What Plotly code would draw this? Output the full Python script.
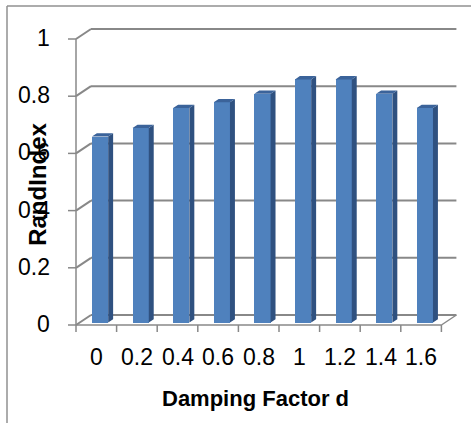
import plotly.graph_objects as go

# ---- data ----
damping = ["0", "0.2", "0.4", "0.6", "0.8", "1", "1.2", "1.4", "1.6"]
rand_index = [0.65, 0.68, 0.75, 0.77, 0.80, 0.85, 0.85, 0.80, 0.75]
y_ticks = [0, 0.2, 0.4, 0.6, 0.8, 1.0]
y_tick_text = ["0", "0.2", "0.4", "0.6", "0.8", "1"]

# ---- geometry of the pseudo-3D frame (data units) ----
W, H = 471, 423
ORIGIN_X_PX, ORIGIN_Y_PX = 76, 325      # where the front floor corner sits
CAT_PX, UNIT_PX = 40.6, 286             # pixels per category / per 1.0 on y
DX, DY = 15 / CAT_PX, 10 / UNIT_PX      # depth of the walls
BAR_W = 0.4
FRONT = 0.25                            # depth fraction of the bar front face
DEPTH = 0.33                            # depth fraction occupied by a bar

x_range = [-0.5 - ORIGIN_X_PX / CAT_PX, -0.5 + (W - ORIGIN_X_PX) / CAT_PX]
y_range = [-(H - ORIGIN_Y_PX) / UNIT_PX, ORIGIN_Y_PX / UNIT_PX]

FRONT_COL = "#4f81bd"
SIDE_COL = "#2f5180"
TOP_COL = "#3b639a"
GRID_COL = "#888888"
FONT = "Liberation Sans, Arial, sans-serif"

n = len(rand_index)
pos = list(range(n))
fx, fy = FRONT * DX, FRONT * DY
dx, dy = DEPTH * DX, DEPTH * DY

fig = go.Figure()

# front faces of the columns
fig.add_trace(go.Bar(
    x=[p + fx for p in pos], y=rand_index, base=fy, width=BAR_W,
    marker=dict(color=FRONT_COL, line=dict(width=0)),
    hoverinfo="skip", showlegend=False,
))

# side and top faces
side_x, side_y, top_x, top_y = [], [], [], []
for p, v in zip(pos, rand_index):
    xl = p + fx - BAR_W / 2
    xr = p + fx + BAR_W / 2
    yt = v + fy
    side_x += [xr, xr + dx, xr + dx, xr, xr, None]
    side_y += [fy, fy + dy, yt + dy, yt, fy, None]
    top_x += [xl, xr, xr + dx, xl + dx, xl, None]
    top_y += [yt, yt, yt + dy, yt + dy, yt, None]

fig.add_trace(go.Scatter(x=side_x, y=side_y, mode="lines", fill="toself",
                         fillcolor=SIDE_COL, line=dict(width=0, color=SIDE_COL),
                         hoverinfo="skip", showlegend=False))
fig.add_trace(go.Scatter(x=top_x, y=top_y, mode="lines", fill="toself",
                         fillcolor=TOP_COL, line=dict(width=0, color=TOP_COL),
                         hoverinfo="skip", showlegend=False))

# ---- walls, floor, gridlines and ticks ----
shapes = []
left, right = -0.5, n - 0.5
line_grid = dict(color=GRID_COL, width=2)
line_axis = dict(color=GRID_COL, width=1.5)

for v in y_ticks:
    # side-wall diagonal and back-wall gridline
    shapes.append(dict(type="line", x0=left, y0=v, x1=left + DX, y1=v + DY,
                       line=line_grid, layer="below"))
    shapes.append(dict(type="line", x0=left + DX, y0=v + DY, x1=right + DX, y1=v + DY,
                       line=line_grid, layer="below"))
    # tick mark on the front value axis
    shapes.append(dict(type="line", x0=left - 8 / CAT_PX, y0=v, x1=left, y1=v,
                       line=line_axis, layer="below"))

# front value axis
shapes.append(dict(type="line", x0=left, y0=0, x1=left, y1=max(y_ticks),
                   line=line_axis, layer="below"))
# front floor edge and right floor diagonal
shapes.append(dict(type="line", x0=left, y0=0, x1=right, y1=0,
                   line=line_axis, layer="below"))
shapes.append(dict(type="line", x0=right, y0=0, x1=right + DX, y1=DY,
                   line=line_axis, layer="below"))
# category tick marks at the boundaries
for k in range(n + 1):
    xb = left + k
    shapes.append(dict(type="line", x0=xb, y0=0, x1=xb, y1=-7 / UNIT_PX,
                       line=line_axis, layer="below"))

# chart-area border (top and left edges)
bx = x_range[0] + 7 / CAT_PX
by = y_range[1] - 6 / UNIT_PX
shapes.append(dict(type="line", x0=bx, y0=by, x1=x_range[1], y1=by,
                   line=dict(color="#909090", width=1.5), layer="below"))
shapes.append(dict(type="line", x0=bx, y0=by, x1=bx, y1=y_range[0],
                   line=dict(color="#909090", width=1.5), layer="below"))

# ---- text ----
annotations = []
tick_font = dict(family=FONT, size=23, color="#000000")
for v, t in zip(y_ticks, y_tick_text):
    annotations.append(dict(x=left, y=v, text=t, showarrow=False, xanchor="right",
                            yanchor="middle", xshift=-24, yshift=1, font=tick_font))
for p, t in zip(pos, damping):
    annotations.append(dict(x=p, y=0, text=t, showarrow=False, xanchor="center",
                            yanchor="middle", yshift=-32, font=tick_font))

annotations.append(dict(x=(n - 1) / 2, y=0, text="<b>Damping Factor d</b>",
                        showarrow=False, xanchor="center", yanchor="middle",
                        xshift=-3, yshift=-73,
                        font=dict(family=FONT, size=22, color="#000000")))
annotations.append(dict(x=left, y=0.49, text="<b>RandIndex</b>", showarrow=False,
                        textangle=-90, xanchor="center", yanchor="middle",
                        xshift=-38,
                        font=dict(family=FONT, size=24, color="#000000")))

fig.update_layout(
    width=W, height=H,
    margin=dict(l=0, r=0, t=0, b=0, pad=0),
    paper_bgcolor="white", plot_bgcolor="white",
    xaxis=dict(range=x_range, visible=False, fixedrange=True),
    yaxis=dict(range=y_range, visible=False, fixedrange=True),
    shapes=shapes, annotations=annotations,
    bargap=0, showlegend=False,
)

fig.write_html("out.html")
